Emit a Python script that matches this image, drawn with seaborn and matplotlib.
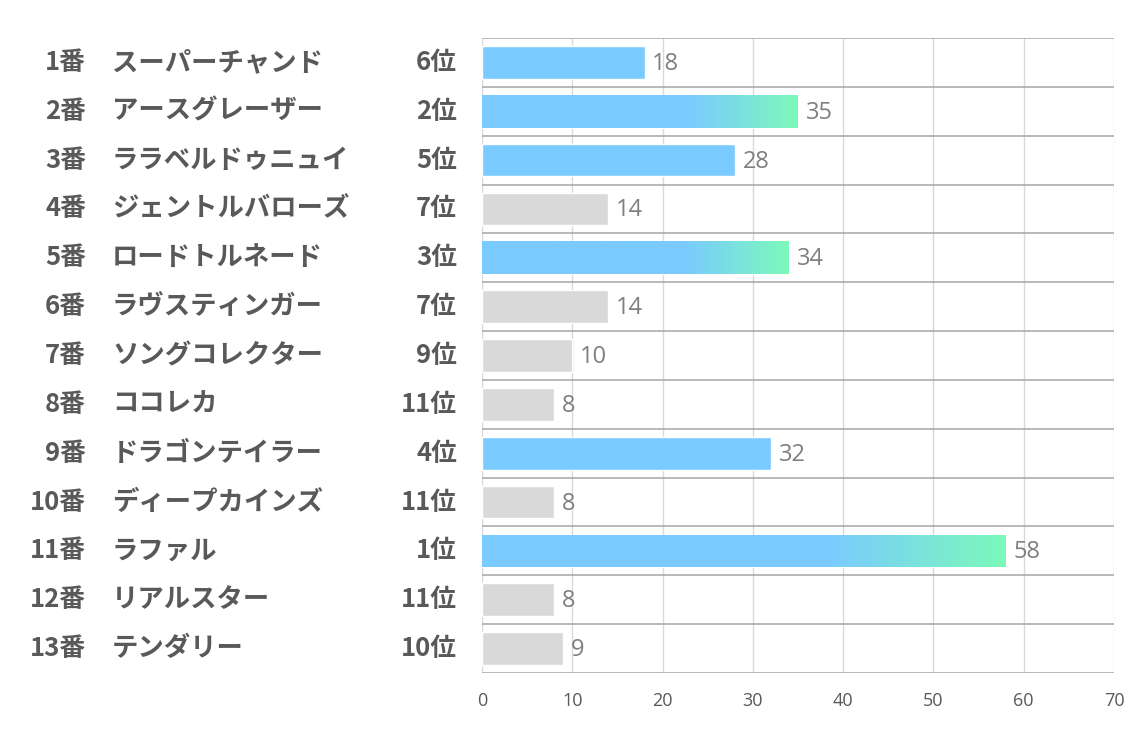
"""
Horizontal bar chart of horse scores with rank labels
"""
import numpy as np
import pandas as pd
import matplotlib
matplotlib.use('Agg')
import matplotlib.pyplot as plt
import matplotlib.transforms as mtransforms
from matplotlib.colors import LinearSegmentedColormap
import seaborn as sns

# data
numbers = ['1番', '2番', '3番', '4番', '5番', '6番', '7番',
           '8番', '9番', '10番', '11番', '12番', '13番']
names = ['スーパーチャンド', 'アースグレーザー', 'ララベルドゥニュイ', 'ジェントルバローズ',
         'ロードトルネード', 'ラヴスティンガー', 'ソングコレクター', 'ココレカ',
         'ドラゴンテイラー', 'ディープカインズ', 'ラファル', 'リアルスター', 'テンダリー']
scores = [18, 35, 28, 14, 34, 14, 10, 8, 32, 8, 58, 8, 9]
ranks = [6, 2, 5, 7, 3, 7, 9, 11, 4, 11, 1, 11, 10]
x_ticks = [0, 10, 20, 30, 40, 50, 60, 70]

BLUE = '#7ACBFF'
GREEN = '#7CF9BA'
GRAY = '#D9D9D9'
TEXT = '#595959'

sns.set_style('white')
plt.rcParams['font.family'] = ['Noto Sans CJK JP', 'DejaVu Sans']

df = pd.DataFrame({'label': [f'{n}　{m}' for n, m in zip(numbers, names)],
                   'score': scores, 'rank': ranks})
df['color'] = [BLUE if r <= 6 else GRAY for r in ranks]

fig = plt.figure(figsize=(11.34, 7.37), dpi=100)
ax = fig.add_axes([482 / 1134, 1 - 673 / 737, (1114 - 482) / 1134, (673 - 38) / 737])

sns.barplot(data=df, x='score', y='label', hue='label', palette=list(df['color']),
            legend=False, width=0.67, saturation=1, ax=ax, zorder=3)

ax.set_xlim(0, 70)
ax.set_ylim(len(df) - 0.5, -0.5)
ax.set_xticks(x_ticks)
ax.set_yticks([])
ax.set_xlabel('')
ax.set_ylabel('')
ax.tick_params(axis='x', length=0, pad=14, labelsize=13, labelcolor=TEXT)
for lab in ax.get_xticklabels():
    lab.set_family(['Open Sans', 'DejaVu Sans'])

# grid: light vertical lines, darker row separators
for v in x_ticks:
    ax.axvline(v, color='#D9D9D9', lw=1, zorder=1)
for i in range(len(df) + 1):
    ax.axhline(i - 0.5, color='#A6A6A6', lw=1.1, zorder=2)
for s in ax.spines.values():
    s.set_visible(False)

# gradient fill for the top three bars
cmap = LinearSegmentedColormap.from_list('bg', [(0, BLUE), (0.66, BLUE), (1, GREEN)])
grad = np.linspace(0, 1, 256).reshape(1, -1)
for patch, r in zip(ax.patches, df['rank']):
    if r <= 3:
        x0, y0 = patch.get_x(), patch.get_y()
        w, h = patch.get_width(), patch.get_height()
        im = ax.imshow(grad, cmap=cmap, aspect='auto', extent=[x0, x0 + w, y0 + h, y0],
                       zorder=4)
        im.set_clip_path(patch)
ax.set_xlim(0, 70)
ax.set_ylim(len(df) - 0.5, -0.5)

# value labels
for i, v in enumerate(df['score']):
    ax.text(v + 0.85, i + 0.03, str(v), va='center', ha='left', fontsize=17,
            color='#7F7F7F', family=['Open Sans', 'DejaVu Sans'], zorder=5)

# left side labels
trans = mtransforms.blended_transform_factory(fig.transFigure, ax.transData)
for i, (n, m, r) in enumerate(zip(numbers, names, ranks)):
    ax.text(86 / 1134, i, n, transform=trans, ha='right', va='center',
            fontsize=18.5, fontweight='bold', color=TEXT)
    ax.text(112 / 1134, i, m, transform=trans, ha='left', va='center',
            fontsize=19, fontweight='bold', color=TEXT)
    ax.text(457 / 1134, i, f'{r}位', transform=trans, ha='right', va='center',
            fontsize=18.5, fontweight='bold', color=TEXT)

fig.savefig('out.png', dpi=100)
